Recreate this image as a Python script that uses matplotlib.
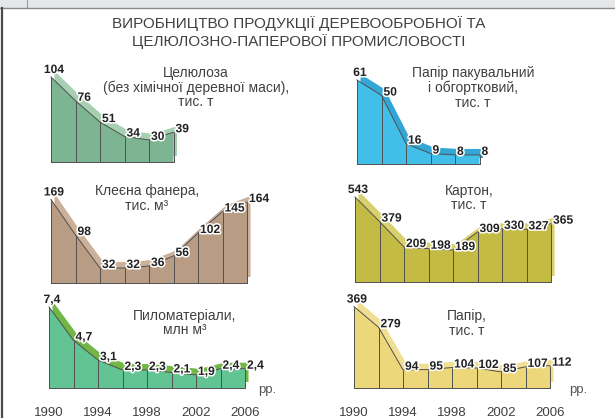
import matplotlib
matplotlib.use('Agg')
import matplotlib.pyplot as plt
from matplotlib.transforms import ScaledTranslation
from matplotlib.patches import Rectangle
from matplotlib.lines import Line2D
import matplotlib.patheffects as pe

# ---------------- data ----------------
years9 = [1990, 1992, 1994, 1996, 1998, 2000, 2002, 2004, 2006]
years6 = [1990, 1992, 1994, 1996, 1998, 2000]
tick_years = [1990, 1994, 1998, 2002, 2006]

cellulose = [104, 76, 51, 34, 30, 39]
pack_paper = [61, 50, 16, 9, 8, 8]
plywood = [169, 98, 32, 32, 36, 56, 102, 145, 164]
cardboard = [543, 379, 209, 198, 189, 309, 330, 327, 365]
lumber = [7.4, 4.7, 3.1, 2.3, 2.3, 2.1, 1.9, 2.4, 2.4]
paper = [369, 279, 94, 95, 104, 102, 85, 107, 112]

main_title = ["ВИРОБНИЦТВО ПРОДУКЦІЇ ДЕРЕВООБРОБНОЇ ТА",
              "ЦЕЛЮЛОЗНО-ПАПЕРОВОЇ ПРОМИСЛОВОСТІ"]
t_cellulose = ["Целюлоза", "(без хімічної деревної маси),", "тис. т"]
t_pack = ["Папір пакувальний", "і обгортковий,", "тис. т"]
t_plywood = ["Клеєна фанера,", "тис. м³"]
t_cardboard = ["Картон,", "тис. т"]
t_lumber = ["Пиломатеріали,", "млн м³"]
t_paper = ["Папір,", "тис. т"]
year_unit = "рр."

# ---------------- figure ----------------
W, H = 615, 418
fig = plt.figure(figsize=(W / 100, H / 100), dpi=100)
fig.patch.set_facecolor('white')

def fx(px):
    return px / W

def fy(py):
    return 1 - py / H

# decorative page strip on top and left border
fig.patches.append(Rectangle((0, fy(7.5)), 1, 7.5 / H, transform=fig.transFigure,
                             facecolor='#e6e7e9', edgecolor='none', zorder=0))
fig.lines.append(Line2D([0, 1], [fy(8), fy(8)], transform=fig.transFigure,
                        color='#8a8a8a', lw=1.0))
fig.lines.append(Line2D([fx(2), fx(2)], [fy(8), 0], transform=fig.transFigure,
                        color='#4a4a4a', lw=1.6))
fig.lines.append(Line2D([fx(27), fx(27)], [fy(0), fy(8)], transform=fig.transFigure,
                        color='#9a9a9a', lw=0.8))

TXT = '#404040'
LBL_FONT = ['Liberation Sans Narrow', 'Liberation Sans', 'DejaVu Sans']
TTL_FONT = ['Liberation Sans', 'DejaVu Sans']

# main title
for line, y in zip(main_title, [24, 42]):
    fig.text(fx(299), fy(y), line, ha='center', va='center', fontsize=11,
             color=TXT, family=TTL_FONT)

SPAN = 196  # pixels from 1990 to 2006
AXH = 100   # axes height in pixels


def panel(x0, base, k, v0, xs, vals, front, band, title, tx, ty,
          decimal=False, ticks=False, unit_x=None):
    ax = fig.add_axes([fx(x0), fy(base), SPAN / W, AXH / H])
    ax.set_xlim(1990, 2006)
    ax.set_ylim(v0, v0 + AXH / k)
    for s in ax.spines.values():
        s.set_visible(False)
    ax.set_yticks([])
    ax.patch.set_alpha(0)
    px = [xs[0]] + list(xs) + [xs[-1]]
    py = [v0] + list(vals) + [v0]
    off = ax.transData + ScaledTranslation(3.5 / 100, 6 / 100, fig.dpi_scale_trans)
    ax.fill(px, py, color=band, transform=off, clip_on=False, zorder=1, lw=0)
    ax.fill(px, py, color=front, clip_on=False, zorder=2, lw=0)
    lc = '#505050'
    ax.plot(xs, vals, color=lc, lw=0.7, zorder=3, clip_on=False)
    ax.vlines(xs, v0, vals, color=lc, lw=0.7, zorder=3, clip_on=False)
    ax.plot([xs[0], xs[-1]], [v0, v0], color=lc, lw=0.7, zorder=3, clip_on=False)
    for i, (x, v) in enumerate(zip(xs, vals)):
        s = (f"{v:.1f}".replace('.', ',')) if decimal else str(v)
        if i == 0:
            xy_off, ha = (3, 7), 'center'
        else:
            xy_off, ha = (2, 3), 'left'
        ax.annotate(s, (x, v), xytext=xy_off, textcoords='offset pixels',
                    ha=ha, va='center', fontsize=8.7, fontweight='bold',
                    color='#222222', family=LBL_FONT, zorder=5,
                    annotation_clip=False,
                    path_effects=[pe.withStroke(linewidth=2.2, foreground='white')])
    for line, y in zip(title, ty):
        fig.text(fx(tx), fy(y), line, ha='center', va='center', fontsize=10,
                 color=TXT, family=TTL_FONT)
    if ticks:
        ax.set_xticks(tick_years)
        ax.set_xticklabels([str(t) for t in tick_years], fontsize=9.5,
                           color=TXT, family=TTL_FONT)
        ax.tick_params(axis='x', length=0, pad=14)
    else:
        ax.set_xticks([])
    if unit_x is not None:
        fig.text(fx(unit_x), fy(390), year_unit, ha='left', va='center',
                 fontsize=9.5, color='#555555', family=TTL_FONT)
    return ax


panel(51, 162, 0.85, 4, years6, cellulose, '#7db592', '#a7cfb1',
      t_cellulose, 196, [73, 88, 102])
panel(357, 164, 1.415, 1.6, years6, pack_paper, '#41bfe9', '#33a6d6',
      t_pack, 473, [73, 88, 103])
panel(51, 283, 0.5, 2, years9, plywood, '#b99c84', '#cbb09a',
      t_plywood, 147, [191, 206])
panel(355, 282, 0.15, -24, years9, cardboard, '#c4bb45', '#d8d06c',
      t_cardboard, 469, [191, 205])
panel(49, 388, 12.35, 0.84, years9, lumber, '#62c393', '#72b646',
      t_lumber, 185, [316, 330], decimal=True, ticks=True, unit_x=258)
panel(354, 388, 0.23, 15, years9, paper, '#ecd87a', '#f0df92',
      t_paper, 467, [316, 331], ticks=True, unit_x=569)

fig.savefig('out.png', dpi=100, facecolor='white')
